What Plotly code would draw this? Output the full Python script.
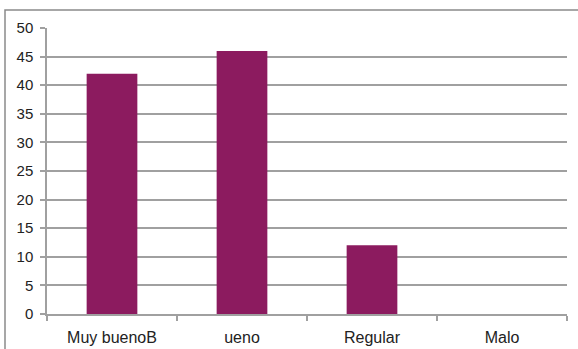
import plotly.graph_objects as go

categories = ["Muy buenoB", "ueno", "Regular", "Malo"]
values = [42, 46, 12, 0]
y_ticks = [0, 5, 10, 15, 20, 25, 30, 35, 40, 45, 50]

W, H = 578, 349
L, R, T, B = 47, 11, 28, 35
pw, ph = W - L - R, H - T - B

fig = go.Figure()
fig.add_trace(go.Bar(
    x=categories, y=values, width=0.39,
    marker=dict(color="#8C1B5F", line=dict(width=0)),
))

grid_c = "#A0A0A0"
fig.update_layout(
    width=W, height=H,
    margin=dict(l=L, r=R, t=T, b=B, autoexpand=False),
    paper_bgcolor="white", plot_bgcolor="white",
    showlegend=False,
    font=dict(family="Liberation Sans, Arial, sans-serif", size=15, color="#222222"),
    xaxis=dict(
        type="category", tickson="boundaries", ticks="outside", ticklen=5,
        tickcolor=grid_c, tickwidth=1.5,
        showline=True, linecolor=grid_c, linewidth=1.5,
        showgrid=False, zeroline=False,
        range=[-0.5, 3.5],
        tickfont=dict(size=16), ticklabelstandoff=8,
        automargin=False,
    ),
    yaxis=dict(
        range=[0, 50], tickvals=y_ticks,
        ticks="outside", ticklen=5, tickcolor=grid_c, tickwidth=1.5,
        showline=True, linecolor=grid_c, linewidth=1.5,
        showgrid=True, gridcolor=grid_c, gridwidth=1.5,
        zeroline=False,
        tickfont=dict(size=15), ticklabelstandoff=4,
        automargin=False,
    ),
    shapes=[dict(
        type="rect", xref="paper", yref="paper",
        x0=(5 - L) / pw, x1=1.2,
        y0=-0.3, y1=(H - B - 10) / ph,
        line=dict(color="#8A8A8A", width=1.5), layer="below",
    )],
)

fig.write_html(
    "out.html",
    config={"displayModeBar": False},
    post_script="document.body.style.margin='0';document.body.style.overflow='hidden';",
)
